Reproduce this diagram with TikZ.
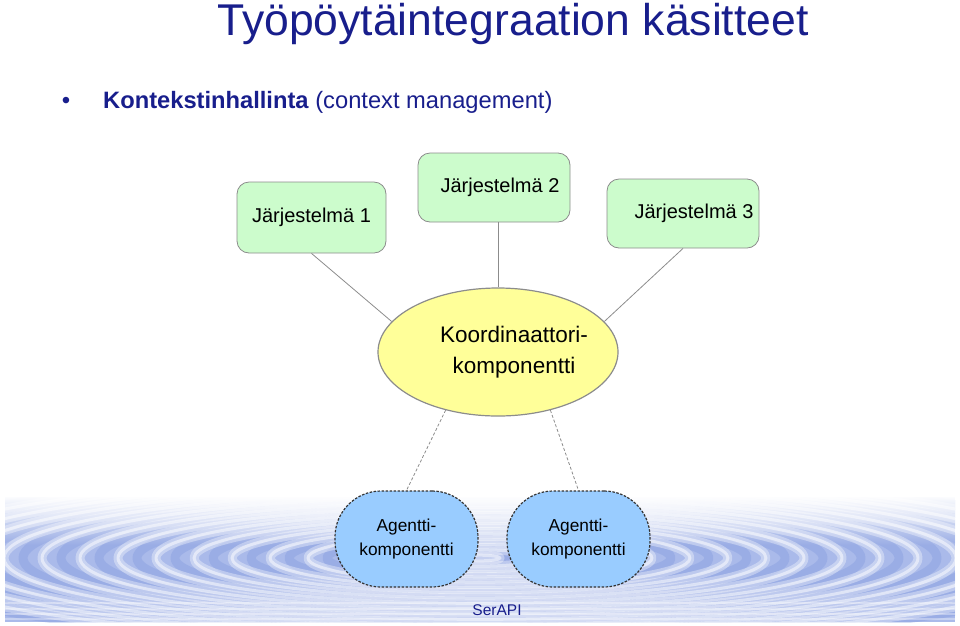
\documentclass[tikz,border=0pt]{standalone}
\usepackage{fontspec}
\setmainfont{Liberation Sans}
\usetikzlibrary{shapes.geometric,fadings}
\definecolor{navy}{RGB}{24,30,140}
\definecolor{boxgreen}{RGB}{204,252,204}
\definecolor{ellyellow}{RGB}{255,255,153}
\definecolor{agentblue}{RGB}{153,204,255}
\definecolor{water}{RGB}{170,186,234}
\definecolor{waterdeep}{RGB}{120,146,220}
\definecolor{edgegray}{RGB}{140,140,140}
\begin{document}
\begin{tikzpicture}[x=1pt, y=-1pt, line join=round,
	jbox/.style={draw=edgegray, fill=boxgreen, rounded corners=12pt, minimum width=149pt, minimum height=71pt, font=\fontsize{20}{24}\selectfont, line width=0.8pt},
	koordell/.style={ellipse, draw=edgegray, fill=ellyellow, minimum width=240pt, minimum height=128pt, line width=1.2pt},
	agent/.style={draw=black!80, fill=agentblue, dash pattern=on 2.5pt off 1.5pt, line width=1.2pt, rounded corners=46pt, minimum width=143pt, minimum height=96pt, align=center, font=\fontsize{17.3}{23.5}\selectfont},
	link/.style={draw=edgegray, line width=0.8pt},
	dlink/.style={link, dash pattern=on 3pt off 2pt}]
	\useasboundingbox (0,0) rectangle (960,625);
	\def\cx{480} \def\cy{558} % keskipiste (aallot)
	% vesi
	\fill[water] (5,497) rectangle (955,622);
	\begin{scope}
		\clip (5,497) rectangle (955,622);
		\foreach \r in {20,58,...,600} {
			\draw[waterdeep, opacity=0.3, line width=9pt] (\cx,\cy) ellipse ({\r+19} and {0.14*(\r+19)});
			\draw[white, opacity=0.35, line width=9pt] (\cx,\cy) ellipse ({\r} and {0.14*\r});
			\draw[white, opacity=0.5, line width=3pt] (\cx,\cy) ellipse ({\r} and {0.14*\r});
		}
		\foreach \y in {603,609,614,619}
			\draw[white, opacity=0.35, line width=1.5pt] (5,\y) -- (955,\y);
	\end{scope}
	\fill[white, path fading=south] (5,495) rectangle (955,545);
	% otsikko
	\node[text=navy, font=\fontsize{44.5}{50}\selectfont, anchor=base] (otsikko) at (513,35) {Työpöytäintegraation käsitteet};
	\node[text=navy, font=\fontsize{24}{28}\selectfont, anchor=base, inner sep=0] (pallo) at (66,108) {\textbullet};
	\node[text=navy, font=\fontsize{23.7}{28}\selectfont, anchor=base west, inner sep=0] (konteksti) at (103,108) {\textbf{Kontekstinhallinta} (context management)};
	% järjestelmät
	\node[jbox] (j1) at (311.5,217.5) {Järjestelmä 1};
	\node[jbox, minimum width=152pt, minimum height=69pt] (j2) at (494,187.5) {\hspace*{12pt}Järjestelmä 2};
	\node[jbox, minimum width=152pt, minimum height=69pt] (j3) at (683,213.5) {\hspace*{22pt}Järjestelmä 3};
	% koordinaattori
	\node[koordell] (koord) at (498,352) {};
	\node[align=center, font=\fontsize{22.5}{31}\selectfont] (koordteksti) at ([xshift=16pt]koord.center) {Koordinaattori-\\komponentti};
	% agentit
	\node[agent] (a1) at (406.5,539) {Agentti-\\komponentti};
	\node[agent] (a2) at (578.5,539) {Agentti-\\komponentti};
	\node[text=navy, font=\fontsize{15.5}{18}\selectfont, anchor=base] (serapi) at (497,615) {SerAPI};
	% yhteydet
	\draw[link] (j1.south) -- (koord.164);
	\draw[link] (j2.south -| koord.north) -- (koord.north);
	\draw[link] (j3.south) -- (koord.16);
	\draw[dlink] (koord.-132) -- (a1.north);
	\draw[dlink] (koord.-48) -- (a2.north);
\end{tikzpicture}
\end{document}
